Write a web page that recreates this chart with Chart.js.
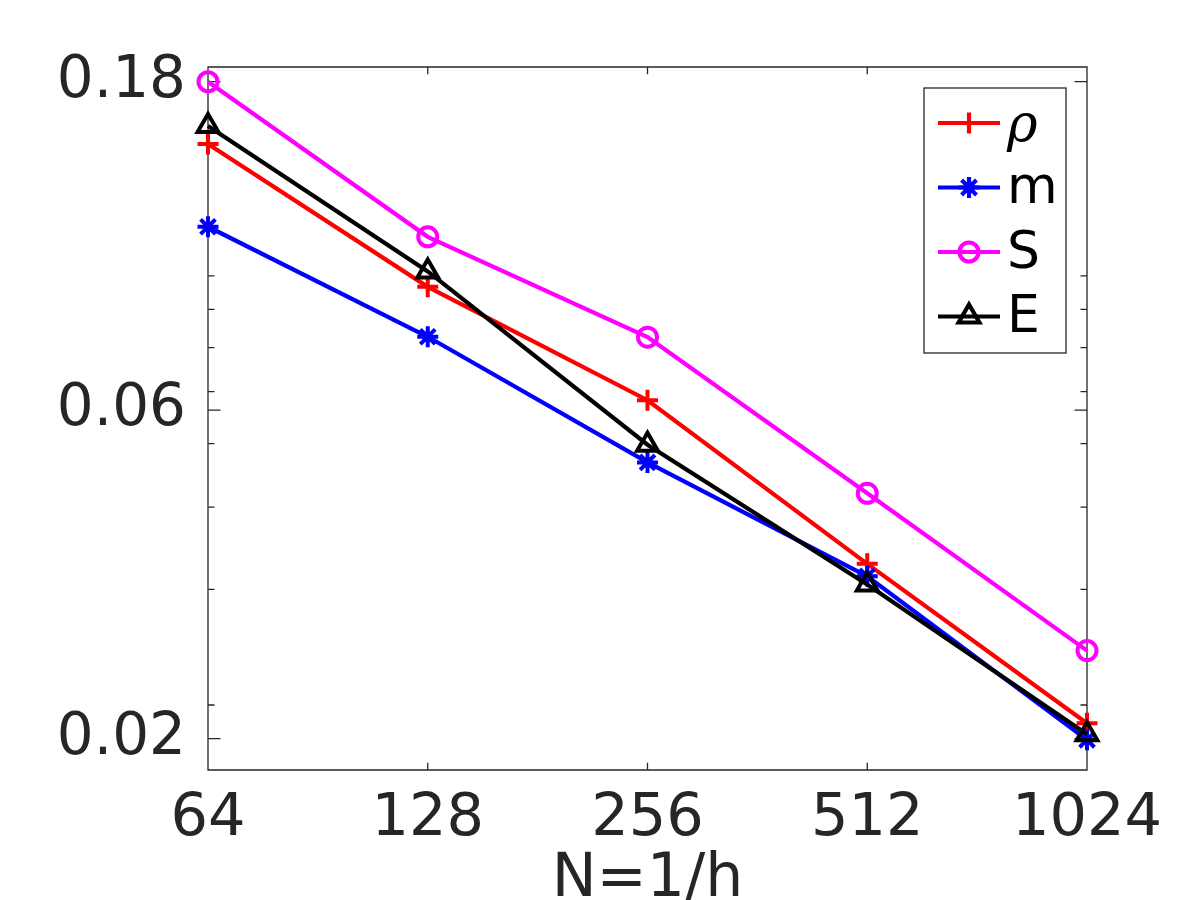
<!DOCTYPE html>
<html><head><meta charset="utf-8">
<script src="https://cdn.jsdelivr.net/npm/chart.js@4.4.1/dist/chart.umd.min.js"></script>
<style>html,body{margin:0;padding:0;background:#fff;}canvas{display:block;}</style>
</head><body>
<canvas id="c" width="1200" height="900" style="width:1200px;height:900px"></canvas>
<script>
// ---- data ----
const categories = [64, 128, 256, 512, 1024];
const xTickLabels = ['64', '128', '256', '512', '1024'];
const rhoValues = [0.1429, 0.0866, 0.0582, 0.0328, 0.01876];
const mValues   = [0.1069, 0.0727, 0.0468, 0.0314, 0.0177];
const sValues   = [0.1777, 0.1032, 0.0726, 0.0420, 0.0242];
const eValues   = [0.1522, 0.0914, 0.0498, 0.0305, 0.01805];
const yTickValues = [0.01778, 0.05623, 0.1778];
const yTickLabels = ['0.02', '0.06', '0.18'];
const yMinorTicks = [0.02, 0.03, 0.04, 0.05, 0.06, 0.07, 0.08, 0.09];
const seriesLabels = ['ρ', 'm', 'S', 'E'];
const yMin = 0.015925, yMax = 0.18713;

const axisColor = '#262626';
const toPts = vals => categories.map((c, i) => ({x: c, y: vals[i]}));

const boxPlugin = {
  id: 'matlabBox',
  beforeDatasetsDraw(chart) {
    const {ctx, chartArea: a, scales: {x, y}} = chart;
    ctx.save();
    ctx.strokeStyle = axisColor;
    ctx.lineWidth = 1.3;
    ctx.beginPath();
    ctx.rect(a.left, a.top, a.right - a.left, a.bottom - a.top);
    yTickValues.forEach(v => {
      const p = y.getPixelForValue(v);
      ctx.moveTo(a.left, p); ctx.lineTo(a.left + 12.5, p);
      ctx.moveTo(a.right, p); ctx.lineTo(a.right - 12.5, p);
    });
    yMinorTicks.forEach(v => {
      const p = y.getPixelForValue(v);
      ctx.moveTo(a.left, p); ctx.lineTo(a.left + 6.5, p);
      ctx.moveTo(a.right, p); ctx.lineTo(a.right - 6.5, p);
    });
    categories.forEach(v => {
      const p = x.getPixelForValue(v);
      ctx.moveTo(p, a.bottom); ctx.lineTo(p, a.bottom - 7.3);
      ctx.moveTo(p, a.top); ctx.lineTo(p, a.top + 7.3);
    });
    ctx.stroke();
    ctx.restore();
  }
};

const legendPlugin = {
  id: 'matlabLegend',
  afterDraw(chart) {
    const {ctx, chartArea: a} = chart;
    const left = a.right - 163, top = a.top + 21, w = 142, h = 265;
    ctx.save();
    ctx.fillStyle = '#fff';
    ctx.fillRect(left, top, w, h);
    ctx.strokeStyle = axisColor;
    ctx.lineWidth = 1.3;
    ctx.strokeRect(left, top, w, h);
    chart.data.datasets.forEach((ds, i) => {
      const cy = top + 35 + i * 64.5;
      ctx.strokeStyle = ds.borderColor;
      ctx.lineWidth = ds.borderWidth;
      ctx.beginPath();
      ctx.moveTo(left + 14, cy); ctx.lineTo(left + 76, cy);
      ctx.stroke();
      ctx.fillStyle = 'rgba(0,0,0,0)';
      ctx.strokeStyle = ds.borderColor;
      Chart.helpers.drawPoint(ctx, {pointStyle: ds.pointStyle, radius: ds.pointRadius, borderWidth: ds.pointBorderWidth, rotation: 0}, left + 45, cy);
      ctx.fillStyle = '#000';
      ctx.textBaseline = 'middle';
      ctx.textAlign = 'left';
      ctx.font = i === 0 ? 'italic 52px "DejaVu Serif"' : '52px "DejaVu Sans"';
      ctx.fillText(ds.label, left + 83, cy + (i === 0 ? 4 : 2));
    });
    ctx.restore();
  }
};

const mk = (label, vals, color, style, r, order) => ({
  label, data: toPts(vals), borderColor: color, backgroundColor: color,
  borderWidth: 4.2, pointStyle: style, pointRadius: r, pointHoverRadius: r,
  pointBorderWidth: 4, pointBorderColor: color, pointBackgroundColor: 'rgba(0,0,0,0)',
  tension: 0, fill: false, clip: false, order
});

new Chart(document.getElementById('c'), {
  type: 'line',
  data: {
    datasets: [
      mk(seriesLabels[0], rhoValues, '#ff0000', 'cross', 10.5, 4),
      mk(seriesLabels[1], mValues, '#0000ff', 'star', 10.5, 3),
      mk(seriesLabels[2], sValues, '#ff00ff', 'circle', 9.5, 2),
      mk(seriesLabels[3], eValues, '#000000', 'triangle', 12, 1)
    ]
  },
  options: {
    responsive: false,
    devicePixelRatio: 1,
    animation: false,
    layout: {padding: {top: 67, right: 113, left: 0, bottom: 0}},
    plugins: {legend: {display: false}, tooltip: {enabled: false}},
    scales: {
      x: {
        type: 'logarithmic', min: 64, max: 1024, position: 'bottom',
        grid: {display: false, drawTicks: false},
        border: {display: false},
        afterBuildTicks: s => { s.ticks = categories.map(v => ({value: v})); },
        afterFit: s => { s.height = 130; },
        ticks: {
          callback: (v, i) => xTickLabels[i],
          color: axisColor, padding: 14, maxRotation: 0, autoSkip: false,
          font: {family: 'DejaVu Sans', size: 59}
        },
        title: {
          display: true, text: 'N=1/h', color: axisColor,
          font: {family: 'DejaVu Sans', size: 60, lineHeight: 1},
          padding: {top: 0, bottom: -10}
        }
      },
      y: {
        type: 'logarithmic', min: yMin, max: yMax, position: 'left',
        grid: {display: false, drawTicks: false},
        border: {display: false},
        afterBuildTicks: s => { s.ticks = yTickValues.map(v => ({value: v})); },
        afterFit: s => { s.width = 208; },
        ticks: {
          callback: (v, i) => yTickLabels[i],
          color: axisColor, padding: 22, autoSkip: false,
          font: {family: 'DejaVu Sans', size: 58}
        }
      }
    }
  },
  plugins: [boxPlugin, legendPlugin]
});
</script>
</body></html>
